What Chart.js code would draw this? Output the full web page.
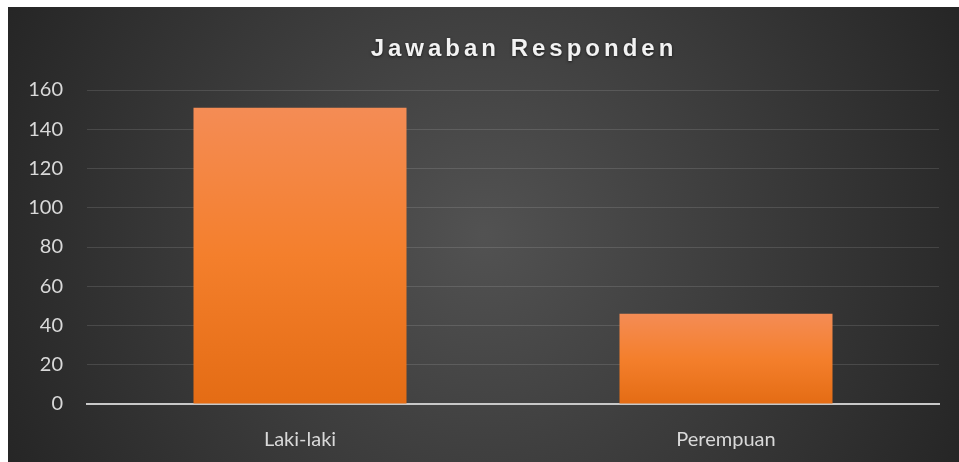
<!DOCTYPE html>
<html>
<head>
<meta charset="utf-8">
<script src="https://cdn.jsdelivr.net/npm/chart.js@4"></script>
<style>
  html, body { margin: 0; padding: 0; background: #fff; }
  #wrap { position: absolute; left: 8px; top: 7px; width: 951px; height: 455px; }
</style>
</head>
<body>
<div id="wrap"><canvas id="mychart"></canvas></div>
<script>
const categories = ["Laki-laki", "Perempuan"];
const jawaban = [151, 46];
const yTicks = [0, 20, 40, 60, 80, 100, 120, 140, 160];
const chartTitle = "Jawaban Responden";

// dark radial background + spaced title
const backdrop = {
  id: 'backdrop',
  beforeDraw(chart) {
    const ctx = chart.ctx, w = chart.width, h = chart.height;
    const g = ctx.createRadialGradient(w * 0.5, h * 0.5, 0, w * 0.5, h * 0.5, w * 0.55);
    g.addColorStop(0, '#525252');
    g.addColorStop(1, '#262626');
    ctx.save();
    ctx.fillStyle = g;
    ctx.fillRect(0, 0, w, h);
    ctx.restore();
  },
  afterDraw(chart) {
    const ctx = chart.ctx;
    ctx.save();
    ctx.font = 'bold 24px "Liberation Sans", Arial, sans-serif';
    ctx.letterSpacing = '4px';
    ctx.fillStyle = '#f2f2f2';
    ctx.textAlign = 'center';
    ctx.textBaseline = 'middle';
    ctx.shadowColor = 'rgba(0,0,0,0.6)';
    ctx.shadowBlur = 3;
    ctx.shadowOffsetY = 1;
    ctx.fillText(chartTitle, 516, 42);
    ctx.restore();
  }
};

function barFill(c) {
  const chart = c.chart;
  if (!chart.chartArea || c.parsed === undefined) return '#f07f2e';
  const y = chart.scales.y;
  const top = y.getPixelForValue(c.parsed.y), base = y.getPixelForValue(0);
  const g = chart.ctx.createLinearGradient(0, top, 0, base);
  g.addColorStop(0, '#f48c55');
  g.addColorStop(0.5, '#f47f2c');
  g.addColorStop(1, '#e46c14');
  return g;
}

new Chart(document.getElementById("mychart"), {
  type: 'bar',
  data: {
    labels: categories,
    datasets: [{
      data: jawaban,
      label: chartTitle,
      backgroundColor: barFill,
      borderWidth: 0,
      categoryPercentage: 0.5,
      barPercentage: 1
    }]
  },
  options: {
    responsive: true,
    maintainAspectRatio: false,
    animation: false,
    layout: { padding: { top: 83, right: 20, left: 0, bottom: 0 } },
    plugins: {
      legend: { display: false },
      title: { display: false },
      tooltip: { enabled: false }
    },
    scales: {
      x: {
        grid: { display: false },
        border: { display: true, color: '#c8c8c8', width: 2 },
        ticks: {
          color: '#d9d9d9',
          font: { family: 'Lato, "Open Sans", sans-serif', size: 20 },
          padding: 16
        },
        afterFit(s) { s.height = 58; }
      },
      y: {
        min: 0,
        max: 160,
        afterBuildTicks(s) { s.ticks = yTicks.map(v => ({ value: v })); },
        grid: { color: 'rgba(255,255,255,0.12)', lineWidth: 1, drawTicks: false },
        border: { display: false },
        ticks: {
          color: '#d9d9d9',
          font: { family: 'Lato, "Open Sans", sans-serif', size: 20 },
          padding: 24
        },
        afterFit(s) { s.width = 79; }
      }
    }
  },
  plugins: [backdrop]
});
</script>
</body>
</html>
